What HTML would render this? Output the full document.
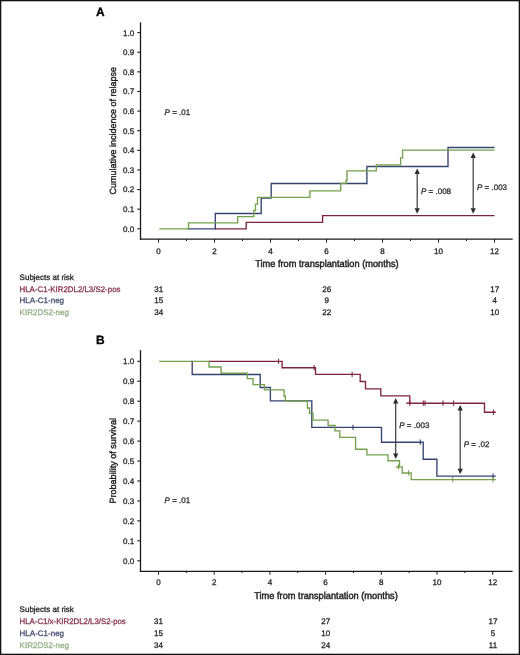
<!DOCTYPE html>
<html><head><meta charset="utf-8"><style>
html,body{margin:0;padding:0;background:#fff;}
body{width:520px;height:655px;overflow:hidden;}
svg{display:block;will-change:transform;}
text{font-family:"Liberation Sans",sans-serif;text-rendering:geometricPrecision;}
</style></head><body>
<svg width="520" height="655" viewBox="0 0 520 655" font-family="Liberation Sans, sans-serif">
<rect x="0" y="0" width="520" height="655" fill="#fff"/>
<rect x="0.65" y="0.65" width="518.7" height="653.7" fill="none" stroke="#111" stroke-width="1.3"/>
<text x="96" y="15.6" font-size="12" text-anchor="start" fill="#000" stroke="#000" font-weight="bold"  stroke-width="0.28">A</text>
<line x1="140.5" y1="22.3" x2="140.5" y2="239.79999999999998" stroke="#1a1a1a" stroke-width="1.3"/>
<line x1="139.9" y1="239.2" x2="512.7" y2="239.2" stroke="#1a1a1a" stroke-width="1.3"/>
<line x1="137.3" y1="228.8" x2="140.5" y2="228.8" stroke="#1a1a1a" stroke-width="1.1"/>
<text x="134.2" y="231.70000000000002" font-size="8" text-anchor="end" fill="#222" stroke="#222" font-weight="normal"  stroke-width="0.28">0.0</text>
<line x1="137.3" y1="209.18" x2="140.5" y2="209.18" stroke="#1a1a1a" stroke-width="1.1"/>
<text x="134.2" y="212.08" font-size="8" text-anchor="end" fill="#222" stroke="#222" font-weight="normal"  stroke-width="0.28">0.1</text>
<line x1="137.3" y1="189.56" x2="140.5" y2="189.56" stroke="#1a1a1a" stroke-width="1.1"/>
<text x="134.2" y="192.46" font-size="8" text-anchor="end" fill="#222" stroke="#222" font-weight="normal"  stroke-width="0.28">0.2</text>
<line x1="137.3" y1="169.94" x2="140.5" y2="169.94" stroke="#1a1a1a" stroke-width="1.1"/>
<text x="134.2" y="172.84" font-size="8" text-anchor="end" fill="#222" stroke="#222" font-weight="normal"  stroke-width="0.28">0.3</text>
<line x1="137.3" y1="150.32" x2="140.5" y2="150.32" stroke="#1a1a1a" stroke-width="1.1"/>
<text x="134.2" y="153.22" font-size="8" text-anchor="end" fill="#222" stroke="#222" font-weight="normal"  stroke-width="0.28">0.4</text>
<line x1="137.3" y1="130.7" x2="140.5" y2="130.7" stroke="#1a1a1a" stroke-width="1.1"/>
<text x="134.2" y="133.6" font-size="8" text-anchor="end" fill="#222" stroke="#222" font-weight="normal"  stroke-width="0.28">0.5</text>
<line x1="137.3" y1="111.08000000000001" x2="140.5" y2="111.08000000000001" stroke="#1a1a1a" stroke-width="1.1"/>
<text x="134.2" y="113.98000000000002" font-size="8" text-anchor="end" fill="#222" stroke="#222" font-weight="normal"  stroke-width="0.28">0.6</text>
<line x1="137.3" y1="91.46000000000001" x2="140.5" y2="91.46000000000001" stroke="#1a1a1a" stroke-width="1.1"/>
<text x="134.2" y="94.36000000000001" font-size="8" text-anchor="end" fill="#222" stroke="#222" font-weight="normal"  stroke-width="0.28">0.7</text>
<line x1="137.3" y1="71.84" x2="140.5" y2="71.84" stroke="#1a1a1a" stroke-width="1.1"/>
<text x="134.2" y="74.74000000000001" font-size="8" text-anchor="end" fill="#222" stroke="#222" font-weight="normal"  stroke-width="0.28">0.8</text>
<line x1="137.3" y1="52.22" x2="140.5" y2="52.22" stroke="#1a1a1a" stroke-width="1.1"/>
<text x="134.2" y="55.12" font-size="8" text-anchor="end" fill="#222" stroke="#222" font-weight="normal"  stroke-width="0.28">0.9</text>
<line x1="137.3" y1="32.599999999999994" x2="140.5" y2="32.599999999999994" stroke="#1a1a1a" stroke-width="1.1"/>
<text x="134.2" y="35.49999999999999" font-size="8" text-anchor="end" fill="#222" stroke="#222" font-weight="normal"  stroke-width="0.28">1.0</text>
<line x1="158.5" y1="239.2" x2="158.5" y2="242.6" stroke="#1a1a1a" stroke-width="1.0"/>
<text x="158.5" y="253.7" font-size="8" text-anchor="middle" fill="#222" stroke="#222" font-weight="normal"  stroke-width="0.28">0</text>
<line x1="186.5" y1="239.2" x2="186.5" y2="241.0" stroke="#1a1a1a" stroke-width="1.0"/>
<line x1="214.5" y1="239.2" x2="214.5" y2="242.6" stroke="#1a1a1a" stroke-width="1.0"/>
<text x="214.5" y="253.7" font-size="8" text-anchor="middle" fill="#222" stroke="#222" font-weight="normal"  stroke-width="0.28">2</text>
<line x1="242.5" y1="239.2" x2="242.5" y2="241.0" stroke="#1a1a1a" stroke-width="1.0"/>
<line x1="270.5" y1="239.2" x2="270.5" y2="242.6" stroke="#1a1a1a" stroke-width="1.0"/>
<text x="270.5" y="253.7" font-size="8" text-anchor="middle" fill="#222" stroke="#222" font-weight="normal"  stroke-width="0.28">4</text>
<line x1="298.5" y1="239.2" x2="298.5" y2="241.0" stroke="#1a1a1a" stroke-width="1.0"/>
<line x1="326.5" y1="239.2" x2="326.5" y2="242.6" stroke="#1a1a1a" stroke-width="1.0"/>
<text x="326.5" y="253.7" font-size="8" text-anchor="middle" fill="#222" stroke="#222" font-weight="normal"  stroke-width="0.28">6</text>
<line x1="354.5" y1="239.2" x2="354.5" y2="241.0" stroke="#1a1a1a" stroke-width="1.0"/>
<line x1="382.5" y1="239.2" x2="382.5" y2="242.6" stroke="#1a1a1a" stroke-width="1.0"/>
<text x="382.5" y="253.7" font-size="8" text-anchor="middle" fill="#222" stroke="#222" font-weight="normal"  stroke-width="0.28">8</text>
<line x1="410.5" y1="239.2" x2="410.5" y2="241.0" stroke="#1a1a1a" stroke-width="1.0"/>
<line x1="438.5" y1="239.2" x2="438.5" y2="242.6" stroke="#1a1a1a" stroke-width="1.0"/>
<text x="438.5" y="253.7" font-size="8" text-anchor="middle" fill="#222" stroke="#222" font-weight="normal"  stroke-width="0.28">10</text>
<line x1="466.5" y1="239.2" x2="466.5" y2="241.0" stroke="#1a1a1a" stroke-width="1.0"/>
<line x1="494.5" y1="239.2" x2="494.5" y2="242.6" stroke="#1a1a1a" stroke-width="1.0"/>
<text x="494.5" y="253.7" font-size="8" text-anchor="middle" fill="#222" stroke="#222" font-weight="normal"  stroke-width="0.28">12</text>
<text transform="translate(116.2,130.7) rotate(-90)" font-size="9" text-anchor="middle" fill="#222" stroke="#222" stroke-width="0.4">Cumulative incidence of relapse</text>
<text x="326.9" y="266.7" font-size="10" text-anchor="middle" fill="#222" stroke="#222" font-weight="normal" textLength="143.5" lengthAdjust="spacingAndGlyphs" stroke-width="0.45">Time from transplantation (months)</text>
<text x="164.6" y="114.6" font-size="8" fill="#2a2a2a" stroke="#2a2a2a" stroke-width="0.28"><tspan font-style="italic">P</tspan> = .01</text>
<path d="M214.8,228.8 H246.2 V222.3 H322.6 V215.6 H494.5" fill="none" stroke="#7d2442" stroke-width="1.35" stroke-linejoin="miter" stroke-linecap="butt"/>
<path d="M187.8,228.8 H215.3 V213.5 H261.2 V198.1 H271.2 V183.5 H366.9 V166.5 H448 V147.5 H494.5" fill="none" stroke="#36436f" stroke-width="1.35" stroke-linejoin="miter" stroke-linecap="butt"/>
<path d="M159.2,228.8 H188.5 V222.9 H237.7 V216.6 H253.8 V210.5 H255.5 V204.1 H257.5 V197.3 H309.9 V190.9 H340.7 V183.4 H346 V180.5 H347 V170.8 H376.3 V164.9 H400.6 V157.8 H402.6 V150.1 H494.5" fill="none" stroke="#73a14d" stroke-width="1.35" stroke-linejoin="miter" stroke-linecap="butt"/>
<line x1="417.2" y1="173.4" x2="417.2" y2="208.7" stroke="#3a3a3a" stroke-width="1.2"/>
<path d="M417.2,168.4 L414.59999999999997,173.9 L419.8,173.9 Z" fill="#2a2a2a"/>
<path d="M417.2,213.7 L414.59999999999997,208.2 L419.8,208.2 Z" fill="#2a2a2a"/>
<text x="421.0" y="194.0" font-size="8" fill="#2a2a2a" stroke="#2a2a2a" stroke-width="0.28"><tspan font-style="italic">P</tspan> = .008</text>
<line x1="473.2" y1="157.6" x2="473.2" y2="208.7" stroke="#3a3a3a" stroke-width="1.2"/>
<path d="M473.2,152.6 L470.59999999999997,158.1 L475.8,158.1 Z" fill="#2a2a2a"/>
<path d="M473.2,213.7 L470.59999999999997,208.2 L475.8,208.2 Z" fill="#2a2a2a"/>
<text x="477.0" y="189.8" font-size="8" fill="#2a2a2a" stroke="#2a2a2a" stroke-width="0.28"><tspan font-style="italic">P</tspan> = .003</text>
<text x="19.6" y="280.2" font-size="8" text-anchor="start" fill="#222" stroke="#222" font-weight="normal"  stroke-width="0.28">Subjects at risk</text>
<text x="19.5" y="291.6" font-size="8" text-anchor="start" fill="#86304f" stroke="#86304f" font-weight="normal" textLength="101" lengthAdjust="spacingAndGlyphs" stroke-width="0.28">HLA-C1-KIR2DL2/L3/S2-pos</text>
<text x="19.6" y="303.3" font-size="8" text-anchor="start" fill="#444c70" stroke="#444c70" font-weight="normal"  stroke-width="0.28">HLA-C1-neg</text>
<text x="19.6" y="315.0" font-size="8" text-anchor="start" fill="#92b082" stroke="#92b082" font-weight="normal"  stroke-width="0.28">KIR2DS2-neg</text>
<text x="158.7" y="291.6" font-size="8" text-anchor="middle" fill="#222" stroke="#222" font-weight="normal"  stroke-width="0.28">31</text>
<text x="158.7" y="303.4" font-size="8" text-anchor="middle" fill="#222" stroke="#222" font-weight="normal"  stroke-width="0.28">15</text>
<text x="158.7" y="315.3" font-size="8" text-anchor="middle" fill="#222" stroke="#222" font-weight="normal"  stroke-width="0.28">34</text>
<text x="326.8" y="291.6" font-size="8" text-anchor="middle" fill="#222" stroke="#222" font-weight="normal"  stroke-width="0.28">26</text>
<text x="326.8" y="303.4" font-size="8" text-anchor="middle" fill="#222" stroke="#222" font-weight="normal"  stroke-width="0.28">9</text>
<text x="326.8" y="315.3" font-size="8" text-anchor="middle" fill="#222" stroke="#222" font-weight="normal"  stroke-width="0.28">22</text>
<text x="494.8" y="291.6" font-size="8" text-anchor="middle" fill="#222" stroke="#222" font-weight="normal"  stroke-width="0.28">17</text>
<text x="494.8" y="303.4" font-size="8" text-anchor="middle" fill="#222" stroke="#222" font-weight="normal"  stroke-width="0.28">4</text>
<text x="494.8" y="315.3" font-size="8" text-anchor="middle" fill="#222" stroke="#222" font-weight="normal"  stroke-width="0.28">10</text>
<text x="96" y="344.2" font-size="12" text-anchor="start" fill="#000" stroke="#000" font-weight="bold"  stroke-width="0.28">B</text>
<line x1="140.5" y1="350.1" x2="140.5" y2="571.9" stroke="#1a1a1a" stroke-width="1.3"/>
<line x1="139.9" y1="571.3" x2="512.6" y2="571.3" stroke="#1a1a1a" stroke-width="1.3"/>
<line x1="137.3" y1="560.8" x2="140.5" y2="560.8" stroke="#1a1a1a" stroke-width="1.1"/>
<text x="134.2" y="563.6999999999999" font-size="8" text-anchor="end" fill="#222" stroke="#222" font-weight="normal"  stroke-width="0.28">0.0</text>
<line x1="137.3" y1="540.8499999999999" x2="140.5" y2="540.8499999999999" stroke="#1a1a1a" stroke-width="1.1"/>
<text x="134.2" y="543.7499999999999" font-size="8" text-anchor="end" fill="#222" stroke="#222" font-weight="normal"  stroke-width="0.28">0.1</text>
<line x1="137.3" y1="520.9" x2="140.5" y2="520.9" stroke="#1a1a1a" stroke-width="1.1"/>
<text x="134.2" y="523.8" font-size="8" text-anchor="end" fill="#222" stroke="#222" font-weight="normal"  stroke-width="0.28">0.2</text>
<line x1="137.3" y1="500.95" x2="140.5" y2="500.95" stroke="#1a1a1a" stroke-width="1.1"/>
<text x="134.2" y="503.84999999999997" font-size="8" text-anchor="end" fill="#222" stroke="#222" font-weight="normal"  stroke-width="0.28">0.3</text>
<line x1="137.3" y1="481.0" x2="140.5" y2="481.0" stroke="#1a1a1a" stroke-width="1.1"/>
<text x="134.2" y="483.9" font-size="8" text-anchor="end" fill="#222" stroke="#222" font-weight="normal"  stroke-width="0.28">0.4</text>
<line x1="137.3" y1="461.04999999999995" x2="140.5" y2="461.04999999999995" stroke="#1a1a1a" stroke-width="1.1"/>
<text x="134.2" y="463.94999999999993" font-size="8" text-anchor="end" fill="#222" stroke="#222" font-weight="normal"  stroke-width="0.28">0.5</text>
<line x1="137.3" y1="441.1" x2="140.5" y2="441.1" stroke="#1a1a1a" stroke-width="1.1"/>
<text x="134.2" y="444.0" font-size="8" text-anchor="end" fill="#222" stroke="#222" font-weight="normal"  stroke-width="0.28">0.6</text>
<line x1="137.3" y1="421.15" x2="140.5" y2="421.15" stroke="#1a1a1a" stroke-width="1.1"/>
<text x="134.2" y="424.04999999999995" font-size="8" text-anchor="end" fill="#222" stroke="#222" font-weight="normal"  stroke-width="0.28">0.7</text>
<line x1="137.3" y1="401.2" x2="140.5" y2="401.2" stroke="#1a1a1a" stroke-width="1.1"/>
<text x="134.2" y="404.09999999999997" font-size="8" text-anchor="end" fill="#222" stroke="#222" font-weight="normal"  stroke-width="0.28">0.8</text>
<line x1="137.3" y1="381.25" x2="140.5" y2="381.25" stroke="#1a1a1a" stroke-width="1.1"/>
<text x="134.2" y="384.15" font-size="8" text-anchor="end" fill="#222" stroke="#222" font-weight="normal"  stroke-width="0.28">0.9</text>
<line x1="137.3" y1="361.3" x2="140.5" y2="361.3" stroke="#1a1a1a" stroke-width="1.1"/>
<text x="134.2" y="364.2" font-size="8" text-anchor="end" fill="#222" stroke="#222" font-weight="normal"  stroke-width="0.28">1.0</text>
<line x1="158.5" y1="571.3" x2="158.5" y2="574.6999999999999" stroke="#1a1a1a" stroke-width="1.0"/>
<text x="158.5" y="585.0" font-size="8" text-anchor="middle" fill="#222" stroke="#222" font-weight="normal"  stroke-width="0.28">0</text>
<line x1="186.35" y1="571.3" x2="186.35" y2="573.0999999999999" stroke="#1a1a1a" stroke-width="1.0"/>
<line x1="214.2" y1="571.3" x2="214.2" y2="574.6999999999999" stroke="#1a1a1a" stroke-width="1.0"/>
<text x="214.2" y="585.0" font-size="8" text-anchor="middle" fill="#222" stroke="#222" font-weight="normal"  stroke-width="0.28">2</text>
<line x1="242.05" y1="571.3" x2="242.05" y2="573.0999999999999" stroke="#1a1a1a" stroke-width="1.0"/>
<line x1="269.9" y1="571.3" x2="269.9" y2="574.6999999999999" stroke="#1a1a1a" stroke-width="1.0"/>
<text x="269.9" y="585.0" font-size="8" text-anchor="middle" fill="#222" stroke="#222" font-weight="normal"  stroke-width="0.28">4</text>
<line x1="297.75" y1="571.3" x2="297.75" y2="573.0999999999999" stroke="#1a1a1a" stroke-width="1.0"/>
<line x1="325.6" y1="571.3" x2="325.6" y2="574.6999999999999" stroke="#1a1a1a" stroke-width="1.0"/>
<text x="325.6" y="585.0" font-size="8" text-anchor="middle" fill="#222" stroke="#222" font-weight="normal"  stroke-width="0.28">6</text>
<line x1="353.45000000000005" y1="571.3" x2="353.45000000000005" y2="573.0999999999999" stroke="#1a1a1a" stroke-width="1.0"/>
<line x1="381.3" y1="571.3" x2="381.3" y2="574.6999999999999" stroke="#1a1a1a" stroke-width="1.0"/>
<text x="381.3" y="585.0" font-size="8" text-anchor="middle" fill="#222" stroke="#222" font-weight="normal"  stroke-width="0.28">8</text>
<line x1="409.15" y1="571.3" x2="409.15" y2="573.0999999999999" stroke="#1a1a1a" stroke-width="1.0"/>
<line x1="437.0" y1="571.3" x2="437.0" y2="574.6999999999999" stroke="#1a1a1a" stroke-width="1.0"/>
<text x="437.0" y="585.0" font-size="8" text-anchor="middle" fill="#222" stroke="#222" font-weight="normal"  stroke-width="0.28">10</text>
<line x1="464.85" y1="571.3" x2="464.85" y2="573.0999999999999" stroke="#1a1a1a" stroke-width="1.0"/>
<line x1="492.70000000000005" y1="571.3" x2="492.70000000000005" y2="574.6999999999999" stroke="#1a1a1a" stroke-width="1.0"/>
<text x="492.70000000000005" y="585.0" font-size="8" text-anchor="middle" fill="#222" stroke="#222" font-weight="normal"  stroke-width="0.28">12</text>
<text transform="translate(116.2,460.8) rotate(-90)" font-size="9" text-anchor="middle" fill="#222" stroke="#222" stroke-width="0.4" textLength="85.5" lengthAdjust="spacingAndGlyphs">Probability of survival</text>
<text x="326.0" y="599.3" font-size="10" text-anchor="middle" fill="#222" stroke="#222" font-weight="normal" textLength="143.5" lengthAdjust="spacingAndGlyphs" stroke-width="0.45">Time from transplantation (months)</text>
<text x="164.6" y="502.8" font-size="8" fill="#2a2a2a" stroke="#2a2a2a" stroke-width="0.28"><tspan font-style="italic">P</tspan> = .01</text>
<path d="M208.4,361.3 H282.1 V367.7 H315.5 V374.4 H360.2 V381.5 H365.5 V388.8 H380.8 V395.8 H409.8 V403.2 H484.5 V412.2 H495.8" fill="none" stroke="#7d2442" stroke-width="1.35" stroke-linejoin="miter" stroke-linecap="butt"/>
<line x1="278.5" y1="358.7" x2="278.5" y2="363.90000000000003" stroke="#7d2442" stroke-width="1.1"/>
<line x1="314.2" y1="365.09999999999997" x2="314.2" y2="370.3" stroke="#7d2442" stroke-width="1.1"/>
<line x1="352.1" y1="371.79999999999995" x2="352.1" y2="377.0" stroke="#7d2442" stroke-width="1.1"/>
<line x1="409.8" y1="400.59999999999997" x2="409.8" y2="405.8" stroke="#7d2442" stroke-width="1.1"/>
<line x1="423.3" y1="400.59999999999997" x2="423.3" y2="405.8" stroke="#7d2442" stroke-width="1.1"/>
<line x1="425.0" y1="400.59999999999997" x2="425.0" y2="405.8" stroke="#7d2442" stroke-width="1.1"/>
<line x1="443.0" y1="400.59999999999997" x2="443.0" y2="405.8" stroke="#7d2442" stroke-width="1.1"/>
<line x1="453.6" y1="400.59999999999997" x2="453.6" y2="405.8" stroke="#7d2442" stroke-width="1.1"/>
<line x1="493.5" y1="409.59999999999997" x2="493.5" y2="414.8" stroke="#7d2442" stroke-width="1.1"/>
<line x1="406.3" y1="403.2" x2="409.8" y2="403.2" stroke="#7d2442" stroke-width="1.5"/>
<path d="M191.4,361.3 H192.2 V374.5 H260.2 V387.5 H270.4 V400.9 H311.8 V427.3 H381.5 V442.2 H423.2 V459.2 H436.9 V476.1 H495.8" fill="none" stroke="#36436f" stroke-width="1.35" stroke-linejoin="miter" stroke-linecap="butt"/>
<line x1="353.0" y1="424.7" x2="353.0" y2="429.90000000000003" stroke="#36436f" stroke-width="1.1"/>
<line x1="420.3" y1="439.59999999999997" x2="420.3" y2="444.8" stroke="#36436f" stroke-width="1.1"/>
<line x1="493.1" y1="473.5" x2="493.1" y2="478.70000000000005" stroke="#36436f" stroke-width="1.1"/>
<path d="M159.2,361.3 H209 V367 H221.1 V373.2 H247.3 V378.6 H253.1 V384.6 H264.4 V389.9 H284.1 V396.2 H285.4 V401.1 H307.4 V408 H309.5 V413.4 H313 V420.1 H328.1 V425.5 H335 V430.9 H339.8 V437.3 H355.6 V449.2 H366.9 V454.8 H388 V460.7 H399.5 V466.9 H402.2 V473 H411.2 V479.6 H495.8" fill="none" stroke="#73a14d" stroke-width="1.35" stroke-linejoin="miter" stroke-linecap="butt"/>
<line x1="398.6" y1="464.29999999999995" x2="398.6" y2="469.5" stroke="#73a14d" stroke-width="1.1"/>
<line x1="408.5" y1="470.4" x2="408.5" y2="475.6" stroke="#73a14d" stroke-width="1.1"/>
<line x1="452.8" y1="477.0" x2="452.8" y2="482.20000000000005" stroke="#73a14d" stroke-width="1.1"/>
<line x1="493.1" y1="477.0" x2="493.1" y2="482.20000000000005" stroke="#73a14d" stroke-width="1.1"/>
<line x1="396" y1="466.9" x2="399.5" y2="466.9" stroke="#73a14d" stroke-width="1.5"/>
<line x1="395.7" y1="403.1" x2="395.7" y2="453.9" stroke="#3a3a3a" stroke-width="1.2"/>
<path d="M395.7,398.1 L393.09999999999997,403.6 L398.3,403.6 Z" fill="#2a2a2a"/>
<path d="M395.7,458.9 L393.09999999999997,453.4 L398.3,453.4 Z" fill="#2a2a2a"/>
<text x="399.3" y="427.8" font-size="8" fill="#2a2a2a" stroke="#2a2a2a" stroke-width="0.28"><tspan font-style="italic">P</tspan> = .003</text>
<line x1="460.2" y1="410.1" x2="460.2" y2="469.3" stroke="#3a3a3a" stroke-width="1.2"/>
<path d="M460.2,405.1 L457.59999999999997,410.6 L462.8,410.6 Z" fill="#2a2a2a"/>
<path d="M460.2,474.3 L457.59999999999997,468.8 L462.8,468.8 Z" fill="#2a2a2a"/>
<text x="463.8" y="447.4" font-size="8" fill="#2a2a2a" stroke="#2a2a2a" stroke-width="0.28"><tspan font-style="italic">P</tspan> = .02</text>
<text x="19.6" y="611.6" font-size="8" text-anchor="start" fill="#222" stroke="#222" font-weight="normal"  stroke-width="0.28">Subjects at risk</text>
<text x="19.6" y="623.7" font-size="8" text-anchor="start" fill="#86304f" stroke="#86304f" font-weight="normal" textLength="106.2" lengthAdjust="spacingAndGlyphs" stroke-width="0.28">HLA-C1/x-KIR2DL2/L3/S2-pos</text>
<text x="19.6" y="635.7" font-size="8" text-anchor="start" fill="#444c70" stroke="#444c70" font-weight="normal"  stroke-width="0.28">HLA-C1-neg</text>
<text x="19.6" y="647.8" font-size="8" text-anchor="start" fill="#92b082" stroke="#92b082" font-weight="normal"  stroke-width="0.28">KIR2DS2-neg</text>
<text x="158.5" y="623.8" font-size="8" text-anchor="middle" fill="#222" stroke="#222" font-weight="normal"  stroke-width="0.28">31</text>
<text x="158.5" y="635.9" font-size="8" text-anchor="middle" fill="#222" stroke="#222" font-weight="normal"  stroke-width="0.28">15</text>
<text x="158.5" y="647.8" font-size="8" text-anchor="middle" fill="#222" stroke="#222" font-weight="normal"  stroke-width="0.28">34</text>
<text x="325.8" y="623.8" font-size="8" text-anchor="middle" fill="#222" stroke="#222" font-weight="normal"  stroke-width="0.28">27</text>
<text x="325.8" y="635.9" font-size="8" text-anchor="middle" fill="#222" stroke="#222" font-weight="normal"  stroke-width="0.28">10</text>
<text x="325.8" y="647.8" font-size="8" text-anchor="middle" fill="#222" stroke="#222" font-weight="normal"  stroke-width="0.28">24</text>
<text x="493.0" y="623.8" font-size="8" text-anchor="middle" fill="#222" stroke="#222" font-weight="normal"  stroke-width="0.28">17</text>
<text x="493.0" y="635.9" font-size="8" text-anchor="middle" fill="#222" stroke="#222" font-weight="normal"  stroke-width="0.28">5</text>
<text x="493.0" y="647.8" font-size="8" text-anchor="middle" fill="#222" stroke="#222" font-weight="normal"  stroke-width="0.28">11</text>
</svg>
</body></html>
